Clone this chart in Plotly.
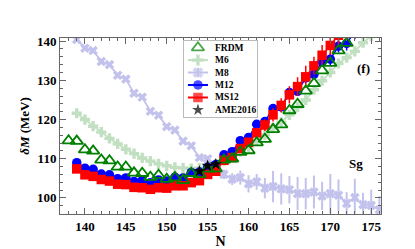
import plotly.graph_objects as go

# ---------------- data ----------------
N_FRDM = list(range(138, 175))
FRDM = [114.6, 114.5, 112.3, 112.0, 109.7, 109.5, 107.9, 107.9, 106.4, 106.3,
        105.3, 105.8, 104.8, 105.2, 104.5, 106.3, 106.0, 107.4, 107.5, 109.7,
        110.0, 111.7, 112.1, 114.1, 115.0, 117.5, 118.7, 122.3, 123.9, 127.3,
        129.2, 132.5, 134.4, 137.6, 139.5, 142.6, 144.2]

N_M6 = list(range(139, 177))
M6 = [121.6, 120.0, 118.3, 116.8, 115.2, 113.8, 112.4, 111.3, 110.2, 109.4,
      108.7, 108.2, 107.8, 107.6, 107.5, 107.6, 108.0, 108.6, 109.5, 110.6,
      111.8, 113.0, 114.6, 116.1, 117.8, 119.3, 121.2, 123.2, 125.0, 127.6,
      129.9, 132.0, 134.3, 135.8, 137.4, 139.6, 141.3, 143.0]

N_M8 = list(range(138, 177))
M8 = [142.8, 140.4, 138.2, 137.6, 134.8, 134.0, 131.3, 130.3, 126.7, 125.7,
      122.1, 121.1, 118.2, 117.3, 114.5, 113.3, 110.3, 110.0, 107.3, 106.0,
      104.8, 105.2, 103.6, 104.1, 102.5, 102.9, 102.3, 102.1, 101.1, 101.1,
      101.5, 100.5, 101.1, 100.7, 98.6, 100.1, 98.3, 98.1, 97.0]
M8_err = [0.3] * 18 + [0.8, 1.2, 1.5, 1.8, 2.2, 2.0, 2.6, 4.0, 4.0, 3.5,
                       4.2, 4.0, 4.2, 3.6, 5.0, 4.0, 2.9, 4.8, 3.0, 4.0, 3.5]

N_M12 = list(range(139, 175))
M12 = [109.0, 107.6, 107.3, 106.1, 105.9, 104.9, 105.1, 104.2, 104.4, 103.9,
       104.6, 104.3, 105.3, 105.1, 106.5, 106.6, 107.8, 108.5, 111.0, 111.8,
       114.6, 115.4, 118.8, 119.5, 122.8, 123.2, 126.9, 127.2, 130.6, 131.5,
       134.8, 135.4, 138.7, 139.4, 142.5, 143.0]
M12_err = [0.2] * 21 + [0.5, 0.6, 0.6, 0.7, 0.8, 0.8, 0.9, 1.0, 1.1, 1.2,
                        1.5, 1.6, 1.8, 2.0]

N_MS12 = list(range(139, 172))
MS12 = [107.4, 105.9, 105.5, 104.7, 104.3, 103.5, 103.4, 102.7, 102.6, 102.2,
        102.6, 102.5, 103.1, 103.1, 103.9, 104.4, 106.0, 106.8, 109.6, 110.3,
        112.6, 114.2, 116.6, 118.6, 121.2, 123.6, 126.3, 128.4, 130.9, 133.7,
        136.4, 138.9, 141.5]
MS12_err = [0.3] * 18 + [0.6, 0.7, 0.9, 1.0, 1.3, 1.5, 1.7, 1.8, 2.2, 2.4,
                         2.8, 2.3, 2.6, 2.5, 3.0]

N_AME = [154, 155, 156]
AME = [106.8, 108.2, 108.6]

x_ticks = [140, 145, 150, 155, 160, 165, 170, 175]
y_ticks = [100, 110, 120, 130, 140]

# ---------------- style ----------------
FONT = "Liberation Serif, Times New Roman, serif"
GREEN = "#008000"
M6_COL = "rgb(70,160,70)"
M6_OP = 0.33
M8_COL = "rgb(80,80,200)"
M8_OP = 0.34
BLUE = "#0000ff"
RED = "#ff0000"
FRAME = "#666666"

fig = go.Figure()

fig.add_trace(go.Scatter(x=N_M6, y=M6, mode="lines+markers", name="M6",
                         opacity=M6_OP,
                         line=dict(color=M6_COL, width=1.8),
                         marker=dict(symbol="cross", size=8.5, color=M6_COL),
                         showlegend=False))
fig.add_trace(go.Scatter(x=N_M8, y=M8, mode="lines+markers", name="M8",
                         opacity=M8_OP,
                         line=dict(color=M8_COL, width=1.8),
                         marker=dict(symbol="x", size=8.5, color=M8_COL),
                         error_y=dict(type="data", array=M8_err, color=M8_COL,
                                      thickness=2, width=0),
                         showlegend=False))
fig.add_trace(go.Scatter(x=N_M12, y=M12, mode="lines+markers", name="M12",
                         line=dict(color=BLUE, width=1.5),
                         marker=dict(symbol="circle", size=9.5, color=BLUE),
                         error_y=dict(type="data", array=M12_err, color=BLUE,
                                      thickness=1.5, width=0),
                         showlegend=False))
fig.add_trace(go.Scatter(x=N_MS12, y=MS12, mode="lines+markers", name="MS12",
                         line=dict(color=RED, width=1.5),
                         marker=dict(symbol="square", size=9.5, color=RED),
                         error_y=dict(type="data", array=MS12_err, color=RED,
                                      thickness=1.5, width=0),
                         showlegend=False))
fig.add_trace(go.Scatter(x=N_FRDM, y=FRDM, mode="markers", name="FRDM",
                         marker=dict(symbol="triangle-up-open", size=11,
                                     color=GREEN, line=dict(width=1.8, color=GREEN)),
                         showlegend=False))
fig.add_trace(go.Scatter(x=N_AME, y=AME, mode="markers", name="AME2016",
                         marker=dict(symbol="star", size=9, color="black"),
                         showlegend=False))

# ---------------- custom legend (own small subplot) ----------------
legend_items = [
    ("FRDM", "markers", "triangle-up-open", GREEN, None, 1.0),
    ("M6", "lines+markers", "cross", M6_COL, 0.38, M6_OP),
    ("M8", "lines+markers", "x", M8_COL, 0.38, M8_OP),
    ("M12", "lines+markers", "circle", BLUE, None, 1.0),
    ("MS12", "lines+markers", "square", RED, None, 1.0),
    ("AME2016", "markers", "star", "black", None, 1.0),
]
seg_x = [4, 14, 24]
for i, (name, mode, sym, col, err, op) in enumerate(legend_items):
    if mode == "markers":
        xs, ys = [seg_x[1]], [i]
        sizes = [11 if sym.startswith("triangle") else 9]
    else:
        xs, ys = seg_x, [i] * len(seg_x)
        sizes = [0, 9.5, 0]
    tr = go.Scatter(x=xs, y=ys, mode=mode, xaxis="x2", yaxis="y2", showlegend=False,
                    hoverinfo="skip", opacity=op,
                    line=dict(color=col, width=2),
                    marker=dict(symbol=sym, size=sizes, color=col,
                                line=dict(width=1.8 if sym.endswith("open") else 0, color=col)))
    if err is not None:
        tr.error_y = dict(type="data", array=[0, err, 0], color=col, thickness=2, width=0)
    fig.add_trace(tr)
    fig.add_annotation(x=29, y=i, xref="x2", yref="y2", text=f"<b>{name}</b>",
                       showarrow=False, xanchor="left", yanchor="middle",
                       font=dict(family=FONT, size=9.5, color="black"))

fig.add_annotation(x=174.0, y=132.9, xref="x", yref="y", text="<b>(f)</b>",
                   showarrow=False, font=dict(family=FONT, size=13, color="black"))
fig.add_annotation(x=173.1, y=108.9, xref="x", yref="y", text="<b>Sg</b>",
                   showarrow=False, font=dict(family=FONT, size=13, color="black"))

axis_common = dict(showline=True, mirror="allticks", linecolor=FRAME, linewidth=1,
                   ticks="inside", tickcolor=FRAME, ticklen=6, tickwidth=1,
                   showgrid=False, zeroline=False,
                   tickfont=dict(family=FONT, size=13, color="black", weight="bold"))

fig.update_layout(
    width=415, height=249,
    margin=dict(l=52, r=42, t=30, b=31),
    paper_bgcolor="white", plot_bgcolor="white",
    font=dict(family=FONT, color="black"),
    xaxis=dict(range=[136.95, 176.2], tickvals=x_ticks,
               minor=dict(dtick=1, ticklen=3, ticks="inside", tickcolor=FRAME),
               title=dict(text="<b>N</b>", standoff=2,
                          font=dict(family=FONT, size=14, color="black")),
               **axis_common),
    yaxis=dict(range=[95.9, 140.8], tickvals=y_ticks,
               minor=dict(dtick=2, ticklen=3, ticks="inside", tickcolor=FRAME),
               title=dict(text="<b><i>δM</i> (MeV)</b>", standoff=4,
                          font=dict(family=FONT, size=13, color="black")),
               **axis_common),
    xaxis2=dict(domain=[0.386, 0.614], range=[0, 73], anchor="y2",
                showline=True, mirror=True, linecolor="#bbbbbb", linewidth=1,
                showticklabels=False, ticks="", showgrid=False, zeroline=False,
                fixedrange=True),
    yaxis2=dict(domain=[0.553, 0.984], range=[5.55, -0.55], anchor="x2",
                showline=True, mirror=True, linecolor="#bbbbbb", linewidth=1,
                showticklabels=False, ticks="", showgrid=False, zeroline=False,
                fixedrange=True),
)

fig.write_html("out.html")
